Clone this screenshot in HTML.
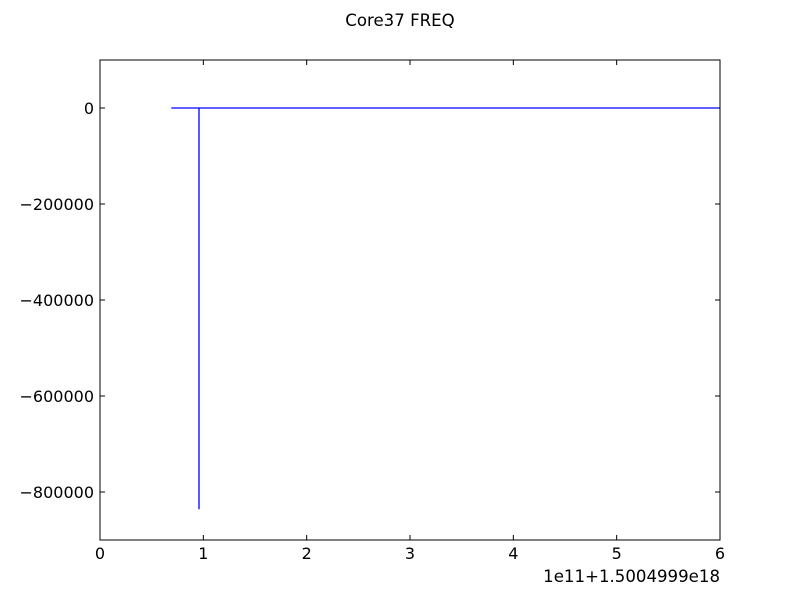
<!DOCTYPE html>
<html><head><meta charset="utf-8"><style>
body{margin:0;background:#fff;}
svg text{font-family:"DejaVu Sans","Liberation Sans",sans-serif;}
</style></head><body>
<svg id="chart" width="800" height="600" xmlns="http://www.w3.org/2000/svg">
<rect width="800" height="600" fill="#fff"/>
<text x="400" y="26" text-anchor="middle" font-size="16.6">Core37 FREQ</text>
<g id="ticks"></g>
<polyline id="series" fill="none" stroke="#0000ff" stroke-width="1.3"/>
<rect x="100" y="60" width="620" height="480" fill="none" stroke="#000" stroke-width="1"/>
<text x="720" y="582" text-anchor="end" font-size="16.6">1e11+1.5004999e18</text>
</svg>
<script>
const xVals = [0.69, 0.958, 0.958, 0.958, 6.0];
const yVals = [0, 0, -836000, 0, 0];
const xTicks = [0, 1, 2, 3, 4, 5, 6];
const yTicks = [0, -200000, -400000, -600000, -800000];
const yTickLabels = ["0", "\u2212200000", "\u2212400000", "\u2212600000", "\u2212800000"];

const L=100,R=720,T=60,B=540,xmin=0,xmax=6,ymin=-900000,ymax=100000;
const sx=v=>L+(v-xmin)/(xmax-xmin)*(R-L);
const sy=v=>T+(ymax-v)/(ymax-ymin)*(B-T);
const NS="http://www.w3.org/2000/svg";
const g=document.getElementById('ticks');
function ln(x1,y1,x2,y2){const l=document.createElementNS(NS,'line');l.setAttribute('x1',x1);l.setAttribute('y1',y1);l.setAttribute('x2',x2);l.setAttribute('y2',y2);l.setAttribute('stroke','#000');g.appendChild(l);return l;}
function tx(x,y,s,a){const t=document.createElementNS(NS,'text');t.setAttribute('x',x);t.setAttribute('y',y);t.setAttribute('font-size','16');t.setAttribute('text-anchor',a);t.textContent=s;g.appendChild(t);return t;}
xTicks.forEach(v=>{const x=sx(v);
 const a=ln(x,B,x,B-5);
 const b=ln(x,T,x,T+5);
 const t=tx(x,B+19,String(v),'middle');});
yTicks.forEach((v,i)=>{const y=sy(v);
 const a=ln(L,y,L+5,y);
 const b=ln(R,y,R-5,y);
 const t=tx(L-6,y+6,yTickLabels[i],'end');});
document.getElementById('series').setAttribute('points',xVals.map((x,i)=>sx(x)+','+sy(yVals[i])).join(' '));
</script>
</body></html>
